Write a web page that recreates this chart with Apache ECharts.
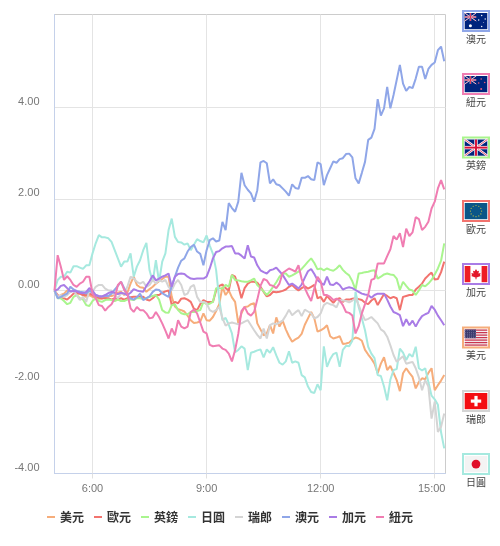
<!DOCTYPE html>
<html><head><meta charset="utf-8">
<style>html,body{margin:0;padding:0;background:#fff}#c{width:500px;height:546px}</style>
<script src="https://cdn.jsdelivr.net/npm/echarts@6/dist/echarts.min.js"></script>
</head><body><div id="c"></div>
<script>
var names=['美元','歐元','英鎊','日圓','瑞郎','澳元','加元','紐元'];
var tickLabels=['6:00','9:00','12:00','15:00'];
var xTicks=[360,540,720,900];
var yTicks=[-4,-2,0,2,4];
var usd=[0,-.14,-.1,-.07,0,-.03,0,-.07,-.07,-.1,-.14,-.1,-.14,-.17,-.18,-.18,-.15,-.12,-.12,-.1,-.05,-.03,-.1,-.05,.15,.3,.12,.07,.06,-.03,.03,.08,.15,.2,.25,.3,.3,-.14,-.35,-.41,-.43,-.46,-.55,-.65,-.71,-.7,-.68,-.5,-.65,-.66,-.58,-.45,-.3,.08,-.1,0,-.15,-.25,-.72,-.5,-.36,-.35,-.3,-.28,-.72,-.85,-.98,-.94,-.76,-.94,-.59,-.79,-.66,-.85,-1,-1.12,-1.07,-1.03,-.95,-.75,-.61,-.47,-.61,-.9,-.87,-.83,-.76,-1,-1.05,-1.03,-1,-1.17,-1.16,-1.14,-1.07,-1.03,-1.05,-1.1,-1.3,-1.4,-1.49,-1.6,-1.81,-1.6,-1.46,-1.74,-1.65,-1.8,-1.96,-2.2,-1.81,-1.7,-1.8,-1.89,-2.14,-2,-1.92,-1.94,-1.8,-1.7,-2.18,-2.07,-1.97,-1.85];
var eur=[0,-.1,-.17,-.17,-.2,-.14,-.07,-.05,-.07,-.1,-.1,-.07,-.1,-.14,-.16,-.17,-.17,-.17,-.2,-.17,-.2,-.17,-.2,-.17,-.15,-.14,-.14,-.14,-.14,-.2,-.22,-.17,-.1,-.1,-.05,-.02,0,-.32,-.25,-.28,-.18,-.17,-.2,-.25,-.4,-.43,-.3,-.21,-.25,-.25,-.25,0,.1,.13,.05,0,.34,.3,.1,-.17,.05,.15,.19,.19,.17,.08,-.03,-.13,-.1,-.03,-.04,-.03,-.01,.02,.08,.12,.05,0,.05,.09,.04,.08,.12,-.17,-.14,-.25,-.12,-.2,-.27,-.19,-.17,-.25,-.2,-.2,-.18,-.17,-.19,-.21,-.27,-.3,-.22,-.17,-.32,-.2,-.08,-.12,-.17,-.14,-.17,-.43,-.14,-.12,-.1,-.1,.02,.08,.15,.26,.33,.39,.24,.25,.4,.63];
var gbp=[0,-.17,-.17,-.23,-.3,-.27,-.14,-.1,-.17,-.2,-.32,-.34,-.23,-.17,-.23,-.25,-.21,-.2,-.21,-.23,-.2,-.23,-.23,-.2,-.2,-.21,-.17,-.17,-.19,-.17,-.14,-.12,-.1,-.2,-.43,-.48,-.49,-.32,-.3,-.43,-.5,-.52,-.52,-.47,-.47,-.45,-.43,-.25,-.3,-.29,-.25,.05,.05,.04,.12,.08,.34,.23,.22,.2,.19,.19,.22,.26,.12,.05,-.02,-.1,-.02,.08,.18,.3,.37,.37,.3,.33,.37,.41,.47,.55,.63,.7,.6,.46,.48,.44,.48,.45,.43,.48,.55,.45,.38,.33,.2,.02,.37,.38,.4,.41,.43,.44,.26,.3,.35,.37,.35,.34,.26,.01,.19,.1,.02,0,-.1,0,.12,.09,.15,.23,.35,.48,.65,1.03];
var jpy=[0,.23,.3,.3,.41,.39,.53,.53,.5,.47,.55,.55,.81,1.03,1.21,1.16,1.16,1.14,1.06,.88,.7,.52,.63,.63,.81,.3,.52,.66,.88,1.04,.44,.19,.66,.19,.63,.81,1.32,1.57,1.17,1.06,1.05,1,1.03,.88,1,1.12,1.08,1.05,1.2,.98,.8,.45,-.2,-.65,-.6,-.75,-.94,-1.35,-1.3,-1.22,-1.27,-1.74,-1.36,-1.34,-1.31,-1.29,-1.46,-1.29,-1.36,-1.24,-1.42,-1.58,-1.62,-1.55,-1.33,-1.58,-1.55,-1.58,-1.85,-1.9,-2.1,-2.22,-2.24,-2.05,-2.18,-1.22,-1.67,-1.5,-1.39,-1.36,-1.67,-1.3,-1.21,-1.22,-1.1,-.03,-.36,-.61,-.87,-1.23,-1.38,-1.48,-1.85,-1.87,-2.1,-2.4,-1.95,-1.74,-1.72,-1.27,-1.36,-1.52,-1.39,-1.45,-1.23,-1.7,-1.75,-1.7,-2,-2.3,-2.38,-2.5,-3.1,-3.45];
var chf=[0,-.14,-.1,-.14,-.1,-.03,0,-.1,-.21,-.14,-.25,0,-.03,.08,.12,.12,.04,0,0,-.1,-.17,-.07,-.07,.08,.3,.26,.19,.15,.19,.08,.12,.23,.15,.23,.19,.23,.08,0,.15,.23,.12,-.1,-.07,.08,.12,-.14,-.25,-.25,-.28,-.43,-.47,-.43,-.36,-.6,-.77,-.72,-.7,-.72,-.74,-.72,-.68,-.65,-.76,-.87,-.97,-1.05,-.83,-1.05,-.76,-.72,-.74,-.7,-.66,-.55,-.42,-.54,-.48,-.43,-.56,-.42,-.46,-.5,-.61,-.58,-.5,-.32,-.27,-.3,-.32,-.37,-.21,-.22,-.23,-.26,-.22,-.17,-.32,-.5,-.65,-.62,-.58,-.65,-.72,-.85,-.9,-1.01,-1.2,-1.41,-1.56,-1.5,-1.44,-1.6,-1.58,-1.56,-1.7,-1.9,-2.18,-1.96,-2.1,-2.8,-2.43,-3.09,-2.98,-2.69];
var aud=[0,-.17,-.14,-.1,-.07,.08,.02,-.01,-.03,-.04,-.07,0,-.06,-.1,-.13,-.13,-.12,-.12,-.07,.02,.1,.19,.05,-.1,-.17,-.2,-.15,-.07,-.21,-.17,-.13,-.03,.02,.01,-.06,-.1,-.14,.1,.3,.5,.65,.7,.85,.95,1,.85,.8,.55,.88,1.1,1.14,1.07,1.09,1.5,1.32,1.91,1.8,1.72,1.94,2.57,2.3,2.2,2.12,1.94,2.19,2.8,2.83,2.78,2.34,2.43,2.32,2.3,2.23,2.16,2.07,2.32,2.24,2.22,2.46,2.46,2.5,2.43,2.41,2.8,2.76,2.3,2.52,2.67,2.82,2.79,2.87,2.89,2.98,2.99,2.91,2.45,2.34,2.57,2.81,3.29,3.34,3.53,4.18,3.82,3.98,4.45,3.98,4.27,4.6,4.93,4.52,4.36,4.45,4.42,4.63,4.89,4.89,4.62,4.84,4.93,4.98,5.25,5.33,5.01];
var cad=[0,.02,.1,.12,.05,-.02,-.01,-.02,-.05,-.06,-.03,.05,0,-.1,-.12,-.13,-.1,-.06,-.03,-.05,-.08,-.05,-.07,-.1,-.05,.03,0,-.02,-.03,.1,.2,.33,.22,.26,.3,.33,.37,.08,.3,.36,.37,.36,.3,.26,.25,.26,.26,.26,.3,.48,.7,.84,.86,.92,.96,.96,.97,.81,.81,.76,.7,.99,.74,.72,.55,.44,.4,.37,.44,.46,.5,.42,.34,.23,.12,.15,.1,.04,.13,.28,.42,.47,.36,.23,.17,.12,.3,.13,.12,.17,.12,.02,.05,.07,.05,.01,-.03,-.07,-.09,-.1,-.16,-.1,-.07,-.07,-.07,-.2,-.35,-.47,-.5,-.54,-.78,-.63,-.76,-.66,-.79,-.66,-.56,-.52,-.49,-.34,-.42,-.55,-.65,-.76];
var nzd=[0,.77,.52,.23,.31,.23,.12,.08,.15,.19,.3,.3,-.07,-.17,-.32,-.34,-.44,-.36,-.3,-.17,.12,.19,.01,-.07,-.39,-.47,-.36,-.43,-.43,-.5,-.61,-.59,-.47,-.58,-.72,-.88,-1.05,-.83,-.98,-.65,-.79,-.83,-.79,-.47,-.42,-.5,-.7,-.9,-.94,-1.19,-1.22,-1.21,-1.2,-1.27,-1.3,-1.38,-1.55,-1.3,-.95,-.45,-.36,-.5,-.55,-.47,-.2,.1,.25,.22,.12,.1,.05,.15,.38,.43,.48,.45,.41,.55,.25,.05,-.1,-.23,.04,.3,.2,-.1,-.1,-.14,-.21,-.18,-.22,-.32,-.47,-.49,-.55,-.94,-.78,-.5,-.3,-.1,.23,.26,.59,.59,.59,.75,.9,1.19,1.11,1.25,.95,1.35,1.19,1.27,1.6,1.56,1.32,1.39,1.5,1.79,1.94,2.23,2.41,2.21];
var seriesValues=[usd,eur,gbp,jpy,chf,aud,cad,nzd];
var colors=['#f6ad7b','#f2736e','#a9f58e','#a6e9df','#d4d4d4','#8fa6e8','#a97ce6','#f07db2'];
var stepMinutes=5, startHour=5;
var minutes=usd.map(function(_,i){return startHour*60+i*stepMinutes;});

var chart=echarts.init(document.getElementById('c'),null,{renderer:'canvas'});
var NAVY='#00247d';
function rect(x,y,w,h,c){return {type:'rect',shape:{x:x,y:y,width:w,height:h},style:{fill:c},silent:true};}
function line(x1,y1,x2,y2,c,lw){return {type:'line',shape:{x1:x1,y1:y1,x2:x2,y2:y2},style:{stroke:c,lineWidth:lw},silent:true};}
function dot(x,y,r,c){return {type:'circle',shape:{cx:x,cy:y,r:r},style:{fill:c},silent:true};}
function union(x,y,w,h,lw){
  var s=lw||1, mx=x+w/2, my=y+h/2;
  return [rect(x,y,w,h,NAVY),
    line(x,y,x+w,y+h,'#fff',s*1.6),line(x,y+h,x+w,y,'#fff',s*1.6),
    line(x,y,x+w,y+h,'#e0355a',s*.6),line(x,y+h,x+w,y,'#e0355a',s*.6),
    line(mx,y,mx,y+h,'#fff',s*2.4),line(x,my,x+w,my,'#fff',s*2.4),
    line(mx,y,mx,y+h,'#d8123a',s*1.4),line(x,my,x+w,my,'#d8123a',s*1.4)];
}
var flags={
 '澳元':function(x,y,w,h){return [rect(x,y,w,h,NAVY)].concat(union(x,y,11.5,8,.6),[dot(x+5.7,y+12.8,1.5,'#fff'),dot(x+17,y+2.5,.7,'#fff'),dot(x+20.5,y+6,.7,'#fff'),dot(x+14,y+7,.7,'#fff'),dot(x+17,y+13.5,.7,'#fff'),dot(x+19,y+9.5,.4,'#fff')]);},
 '紐元':function(x,y,w,h){return [rect(x,y,w,h,NAVY)].concat(union(x,y,11.5,8,.6),[dot(x+16.5,y+3,.8,'#ea5a78'),dot(x+20,y+6.5,.8,'#ea5a78'),dot(x+14,y+7,.8,'#ea5a78'),dot(x+16.5,y+13,1,'#ea5a78')]);},
 '英鎊':function(x,y,w,h){return union(x,y,w,h,1.4);},
 '歐元':function(x,y,w,h){
   var a=[rect(x,y,w,h,'#0a5688')],i,cx=x+w/2,cy=y+h/2;
   for(i=0;i<12;i++){a.push(dot(cx+5.6*Math.cos(i*Math.PI/6),cy+5.6*Math.sin(i*Math.PI/6),.6,'#c9c23a'));}
   return a;},
 '加元':function(x,y,w,h){
   var cx=x+w/2,cy=y+h/2;
   return [rect(x,y,w,h,'#fff'),rect(x,y,5.7,h,'#ee1c25'),rect(x+w-5.7,y,5.7,h,'#ee1c25'),
     {type:'polygon',shape:{points:[[cx,cy-5.2],[cx+1.3,cy-2.8],[cx+3,cy-3.4],[cx+2.4,cy-.5],[cx+4.6,cy-1],[cx+4,cy+1.2],[cx+4.8,cy+2],[cx+.5,cy+3.4],[cx+.5,cy+5.2],[cx-.5,cy+5.2],[cx-.5,cy+3.4],[cx-4.8,cy+2],[cx-4,cy+1.2],[cx-4.6,cy-1],[cx-2.4,cy-.5],[cx-3,cy-3.4],[cx-1.3,cy-2.8]]},style:{fill:'#e3172a'},silent:true}];},
 '美元':function(x,y,w,h){
   var a=[rect(x,y,w,h,'#f3eef0')],i,j,st=h/13;
   for(i=0;i<13;i+=2){a.push(rect(x,y+i*st,w,st,'#c9354f'));}
   a.push(rect(x,y,w*.5,st*7,'#3c3b6e'));
   for(i=0;i<5;i++){for(j=0;j<6;j++){a.push(dot(x+1+j*1.9,y+1+i*1.8,.35,'#c9c9dd'));}}
   return a;},
 '瑞郎':function(x,y,w,h){var cx=x+w/2,cy=y+h/2;return [rect(x,y,w,h,'#f40d12'),rect(cx-5.2,cy-1.6,10.4,3.2,'#fff'),rect(cx-1.6,cy-5.2,3.2,10.4,'#fff')];},
 '日圓':function(x,y,w,h){return [rect(x,y,w,h,'#f3f3f3'),dot(x+w/2,y+h/2,4.4,'#e0102a')];}
};
var flagOrder=['澳元','紐元','英鎊','歐元','加元','美元','瑞郎','日圓'];
var flagTops=[11,74,137.5,201,264,327.5,391,454];
var children=[];
flagOrder.forEach(function(n,k){
  var t=flagTops[k], c=colors[names.indexOf(n)];
  children.push({type:'rect',shape:{x:463,y:t,width:26,height:20},style:{fill:'#fff',stroke:c,lineWidth:2},silent:true});
  flags[n](464.7,t+2,22.6,16.2).forEach(function(el){children.push(el);});
  children.push({type:'text',x:476,y:t+28,style:{text:n,fill:'#444',font:'10px "Noto Sans CJK TC"',textAlign:'center',textVerticalAlign:'middle'},silent:true});
});

chart.setOption({
  animation:false,
  backgroundColor:'#fff',
  color:colors,
  grid:{left:54.5,right:54.5,top:14.5,bottom:72.5,show:true,borderColor:'#ccc',borderWidth:1,containLabel:false},
  legend:{data:names,left:42,top:506,icon:'rect',itemWidth:8,itemHeight:2,itemGap:10,
    textStyle:{fontSize:12,fontWeight:'bold',color:'#333',padding:[0,0,0,0],fontFamily:'"Noto Sans CJK TC"'},formatter:'{name}',
    inactiveColor:'#ccc',selectedMode:false},
  xAxis:{type:'value',min:5*60,max:15*60+17,
    axisLine:{show:true,onZero:false,lineStyle:{color:'#c5d1ea'}},
    axisTick:{show:true,length:5,customValues:xTicks,lineStyle:{color:'#e0e0e0'}},
    splitLine:{show:true,lineStyle:{color:'#e4e4e4'}},
    axisLabel:{customValues:xTicks,color:'#777',fontSize:11,fontFamily:'"Liberation Sans",Arial,sans-serif',margin:10,hideOverlap:false,
      rich:{last:{color:'#777',fontSize:11,fontFamily:'"Liberation Sans",Arial,sans-serif',padding:[0,6,0,0]}},
      formatter:function(v){var i=xTicks.indexOf(v);return i===xTicks.length-1?'{last|'+tickLabels[i]+'}':tickLabels[i];}}},
  yAxis:{type:'value',min:-4,max:6.03,
    axisLine:{show:true,lineStyle:{color:'#c5d1ea'}},
    axisTick:{show:false,customValues:yTicks},
    splitLine:{show:true,lineStyle:{color:'#e4e4e4'}},
    axisLabel:{customValues:yTicks,color:'#777',fontSize:11,fontFamily:'"Liberation Sans",Arial,sans-serif',margin:15,verticalAlign:'bottom',
      formatter:function(v){return v.toFixed(2);}}},
  graphic:{elements:children},
  series:names.map(function(n,k){
    return {name:n,type:'line',symbol:'none',smooth:false,clip:true,
      lineStyle:{width:2,color:colors[k],opacity:1},itemStyle:{color:colors[k]},
      data:seriesValues[k].map(function(v,i){return [minutes[i],v];})};
  })
});
</script></body></html>
